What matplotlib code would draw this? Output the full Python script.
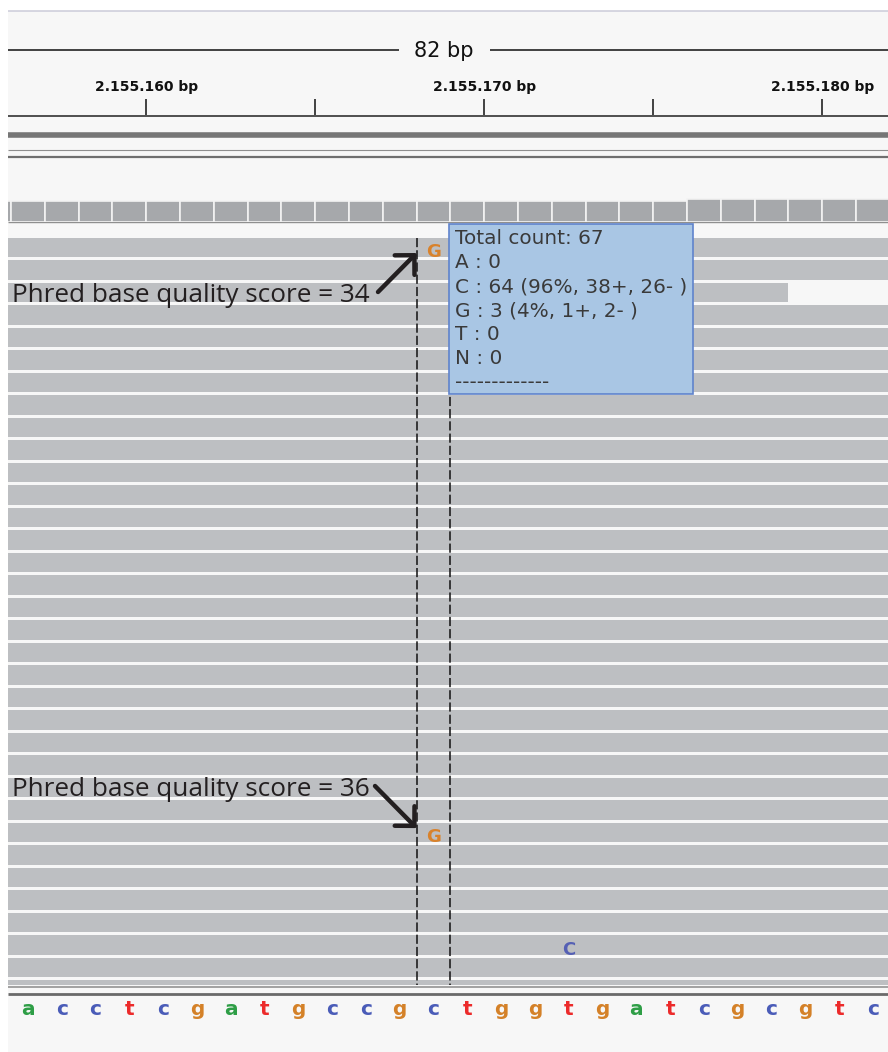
import matplotlib
matplotlib.use("Agg")
import matplotlib.pyplot as plt
from matplotlib.patches import Rectangle

# --- DATA ---
ref_start = 2155156
ref_seq = list("acctcgatgccgctggtgatcgcgtc")
base_colors = {"a": "#2e9e46", "c": "#4a5cb8", "g": "#d48128", "t": "#ec2b2b"}

cov_start = 2155155
coverage = [66, 66, 67, 67, 67, 67, 67, 67, 67, 67, 67, 67, 67, 67,
             67, 67, 67, 67, 67, 67, 67, 72, 72, 72, 72, 72, 72, 72]

ruler_major = [2155160, 2155170, 2155180]
ruler_minor = [2155165, 2155175]
window_label = "82 bp"

FAR_LEFT, FAR_RIGHT = 2155100, 2155250
read_rows = list(range(34))
read_starts = [FAR_LEFT] * 34
read_ends = [FAR_RIGHT] * 2 + [2155179] + [FAR_RIGHT] * 31

mm_rows = [0, 26, 31]
mm_pos = [2155168, 2155168, 2155172]
mm_base = ["G", "G", "C"]
mm_colors = {"G": "#d9822b", "C": "#5560b4"}

snp_pos = 2155168
tooltip_lines = ["Total count: 67", "A : 0", "C : 64 (96%, 38+, 26- )",
                 "G : 3 (4%, 1+, 2- )", "T : 0", "N : 0", "-------------"]

annot_labels = ["Phred base quality score = 34", "Phred base quality score = 36"]
annot_rows = [0, 26]

# --- LAYOUT (pixels of the screenshot) ---
W, H = 888, 1052
BP_PX = 33.8      # pixels per base
EDGE0 = 11.0      # pixel of ref_start
X0 = 8            # left edge of the IGV panel
XMIN = ref_start + (X0 - EDGE0) / BP_PX
XMAX = ref_start + (W - EDGE0) / BP_PX

fig = plt.figure(figsize=(W / 100, H / 100), dpi=100)
fig.patch.set_facecolor("white")


def px_axes(top, bottom, left=0, right=W, zorder=0):
    ax = fig.add_axes([left / W, 1 - bottom / H, (right - left) / W, (bottom - top) / H])
    ax.set_zorder(zorder)
    ax.axis("off")
    return ax


# background panel and track separators
bg = px_axes(0, H)
bg.set_xlim(0, W)
bg.set_ylim(H, 0)
bg.add_patch(Rectangle((X0, 11), W - X0, H - 11, color="#f7f7f7", lw=0))
bg.hlines(10.5, X0, W, color="#cfcfdc", lw=1.2)
bg.hlines(50, X0, 399, color="#111111", lw=1.1)
bg.hlines(50, 490, W, color="#111111", lw=1.1)
bg.text(444, 51, window_label, ha="center", va="center", fontsize=15,
        family="DejaVu Sans", color="#111111")
bg.hlines(115.8, X0, W, color="#222222", lw=1.1)
bg.hlines(134.5, X0, W, color="#767676", lw=4)
bg.hlines(150, X0, W, color="#8e8e8e", lw=0.8)
bg.hlines(156.8, X0, W, color="#6f6f6f", lw=1.6)
bg.hlines(222.3, X0, W, color="#8f8f8f", lw=1.0)
bg.hlines(986.5, X0, W, color="#8a8a8a", lw=1.1)
bg.hlines(993.5, X0, W, color="#6a6a6a", lw=2)

# ruler
ax_rul = px_axes(60, 120, X0, W)
ax_rul.set_xlim(XMIN, XMAX)
ax_rul.set_ylim(120, 60)
ax_rul.vlines(ruler_major + ruler_minor, 99, 115, color="#111111", lw=1.1)
for p in ruler_major:
    lab = f"{p:,}".replace(",", ".") + " bp"
    ax_rul.text(p, 91.5, lab, ha="center", va="baseline", fontsize=10,
                fontweight="bold", family="DejaVu Sans", color="#111111")

# coverage track
ax_cov = px_axes(180, 222, X0, W)
ax_cov.set_xlim(XMIN, XMAX)
ax_cov.set_ylim(0, 134)
cov_pos = [cov_start + i for i in range(len(coverage))]
ax_cov.bar(cov_pos, coverage, width=1, align="edge", color="#a6a8ab",
           edgecolor="#f3f3f3", lw=1.2)

# reads
ax_reads = px_axes(237.7, 984.5, X0, W)
ax_reads.set_xlim(XMIN, XMAX)
ax_reads.set_ylim((984.5 - 237.7) / 22.5, 0)
ax_reads.barh(read_rows, [e - s for s, e in zip(read_starts, read_ends)], left=read_starts,
              height=0.867, align="edge", color="#bdbfc2", lw=0)
ax_reads.vlines([snp_pos, snp_pos + 1], 0, (984.5 - 237.7) / 22.5, colors="#111111",
                lw=1.1, linestyles=[(0, (6, 2))])
for r, p, b in zip(mm_rows, mm_pos, mm_base):
    ax_reads.text(p + 0.5, r + 0.86, b, ha="center", va="baseline", fontsize=13,
                  fontweight="bold", family="DejaVu Sans", color=mm_colors[b])

# reference sequence
ax_seq = px_axes(995, H, X0, W)
ax_seq.set_xlim(XMIN, XMAX)
ax_seq.set_ylim(H, 995)
for i, b in enumerate(ref_seq):
    ax_seq.text(ref_start + i + 0.5, 1015, b, ha="center", va="baseline", fontsize=14.5,
                fontweight="bold", family="DejaVu Sans", color=base_colors[b])

# overlay: popup and annotations
ax_top = px_axes(0, H, zorder=5)
ax_top.set_xlim(0, W)
ax_top.set_ylim(H, 0)
ax_top.add_patch(Rectangle((449, 223.5), 244, 170.5, facecolor="#a9c6e4",
                           edgecolor="#5f83cc", lw=1.2))
for k, line in enumerate(tooltip_lines):
    ax_top.text(455, 244.3 + 24 * k, line, ha="left", va="baseline", fontsize=14.4,
                family="DejaVu Sans", color="#3a3a3a")

tails = [(378, 292), (375, 786)]
heads = [0.68, 0.24]
text_y = [302, 796]
for lab, r, tail, hy, ty in zip(annot_labels, annot_rows, tails, heads, text_y):
    ax_top.text(12, ty, lab, ha="left", va="baseline", fontsize=18.8,
                family="Open Sans", color="#231f20")
    ax_reads.annotate("", xy=(snp_pos, r + hy), xytext=tail, textcoords=ax_top.transData,
                      arrowprops=dict(arrowstyle="->,head_length=0.5,head_width=0.5",
                                      lw=3.2, color="#231f20", shrinkA=0, shrinkB=0,
                                      mutation_scale=20))

fig.savefig("out.png", dpi=100, facecolor=fig.get_facecolor())
